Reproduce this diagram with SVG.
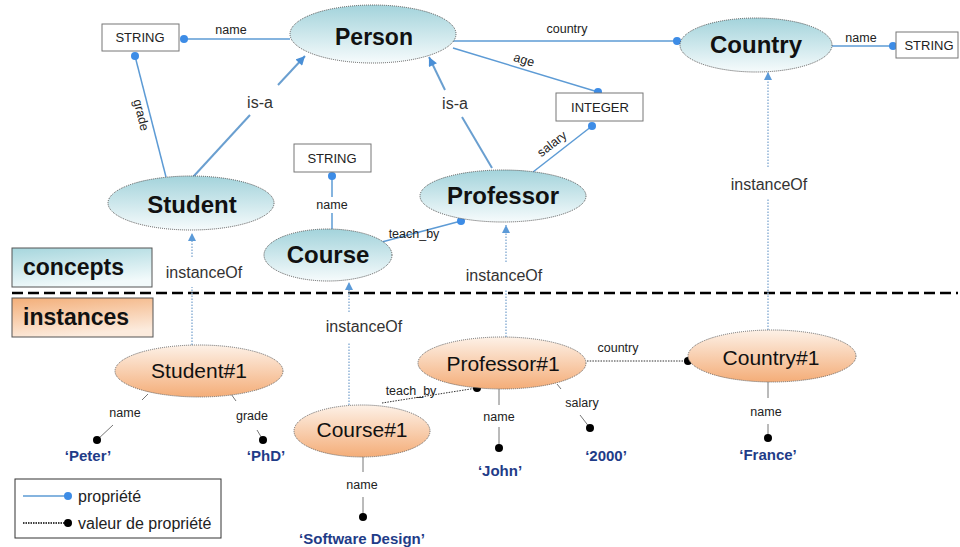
<svg xmlns="http://www.w3.org/2000/svg" width="960" height="547" viewBox="0 0 960 547">
  <defs>
    <linearGradient id="gConcept" x1="0" y1="0" x2="0" y2="1">
      <stop offset="0" stop-color="#a3d3db"/>
      <stop offset="1" stop-color="#f6fbfc"/>
    </linearGradient>
    <linearGradient id="gInstance" x1="0" y1="0" x2="0" y2="1">
      <stop offset="0" stop-color="#fdf1e7"/>
      <stop offset="1" stop-color="#f4ad78"/>
    </linearGradient>
    <linearGradient id="gConceptsTag" x1="0" y1="0" x2="0.3" y2="1">
      <stop offset="0" stop-color="#a6d6dd"/>
      <stop offset="1" stop-color="#f2fafb"/>
    </linearGradient>
    <linearGradient id="gInstancesTag" x1="0" y1="0" x2="0.3" y2="1">
      <stop offset="0" stop-color="#f3ae78"/>
      <stop offset="1" stop-color="#fcebdd"/>
    </linearGradient>
    <marker id="arrowIsA" viewBox="0 0 10 10" refX="10" refY="5" markerWidth="10" markerHeight="9" markerUnits="userSpaceOnUse" orient="auto">
      <path d="M0,0 L10,5 L0,10 z" fill="#4a8fd6"/>
    </marker>
    <marker id="arrowInst" viewBox="0 0 10 10" refX="10" refY="5" markerWidth="9" markerHeight="8" markerUnits="userSpaceOnUse" orient="auto">
      <path d="M0,0 L10,5 L0,10 z" fill="#5b9ad8"/>
    </marker>
  </defs>
  <style>
    .concept ellipse { fill: url(#gConcept); stroke: #555; stroke-width: 1; stroke-dasharray: 1 1; }
    .instance ellipse { fill: url(#gInstance); stroke: #666; stroke-width: 1; stroke-dasharray: 1 1; }
    .cname { font-family: "Liberation Sans", Arial, sans-serif; font-weight: bold; font-size: 24px; fill: #111; text-anchor: middle; }
    .iname { font-family: "Liberation Sans", Arial, sans-serif; font-size: 21px; fill: #111; text-anchor: middle; }
    .type rect { fill: #fff; stroke: #777; stroke-width: 1; }
    .type text { font-family: "Liberation Sans", Arial, sans-serif; font-size: 13px; fill: #222; text-anchor: middle; }
    .prop { stroke: #5d9bd5; stroke-width: 1.5; fill: none; }
    .pdot { fill: #3d8ce6; }
    .isa { stroke: #6a9fd0; stroke-width: 2; fill: none; }
    .inst { stroke: #8fb3d6; stroke-width: 1.5; stroke-dasharray: 1.5 1.5; fill: none; }
    .val { stroke: #777; stroke-width: 1; fill: none; }
    .valdot { stroke: #333; stroke-width: 1; stroke-dasharray: 1.5 1.2; fill: none; }
    .vdot { fill: #000; }
    .lbl { font-family: "Liberation Sans", Arial, sans-serif; font-size: 12.5px; fill: #222; text-anchor: middle; }
    .big { font-family: "Liberation Sans", Arial, sans-serif; font-size: 16px; fill: #333; text-anchor: middle; }
    .value { font-family: "Liberation Sans", Arial, sans-serif; font-weight: bold; font-size: 15px; fill: #1f3c88; text-anchor: middle; }
    .tag { font-family: "Liberation Sans", Arial, sans-serif; font-weight: bold; font-size: 23px; fill: #111; }
    .legend { font-family: "Liberation Sans", Arial, sans-serif; font-size: 16px; fill: #222; }
  </style>

  <rect width="960" height="547" fill="#fff"/>

  <!-- layer tags and separator -->
  <g id="tag-concepts">
    <rect x="12" y="248" width="140" height="39" fill="url(#gConceptsTag)" stroke="#555" stroke-width="1"/>
    <text class="tag" x="23" y="275">concepts</text>
  </g>
  <g id="tag-instances">
    <rect x="12" y="298" width="141" height="39" fill="url(#gInstancesTag)" stroke="#555" stroke-width="1"/>
    <text class="tag" x="23" y="325">instances</text>
  </g>
  <line id="separator" x1="12" y1="293" x2="958" y2="293" stroke="#000" stroke-width="2.5" stroke-dasharray="11 5"/>

  <!-- connectors -->
  <g id="connectors">
    <!-- concept properties -->
    <line class="prop" x1="184" y1="39" x2="290" y2="39"/>
    <circle class="pdot" cx="184" cy="39" r="4"/>
    <text class="lbl" x="231" y="34">name</text>

    <line class="prop" x1="135" y1="56" x2="166" y2="177"/>
    <circle class="pdot" cx="135" cy="56" r="4"/>
    <text class="lbl" transform="translate(141,115) rotate(75.6)" y="4">grade</text>

    <line class="prop" x1="453" y1="41" x2="677" y2="41"/>
    <circle class="pdot" cx="677" cy="41" r="4"/>
    <text class="lbl" x="567" y="33">country</text>

    <line class="prop" x1="453" y1="48" x2="598" y2="92"/>
    <circle class="pdot" cx="598" cy="92" r="4"/>
    <text class="lbl" transform="translate(524,60) rotate(16.9)" y="4">age</text>

    <line class="prop" x1="533" y1="172" x2="592" y2="126"/>
    <circle class="pdot" cx="592" cy="126" r="4"/>
    <text class="lbl" transform="translate(552,144) rotate(-38)" y="4">salary</text>

    <line class="prop" x1="832" y1="46" x2="893" y2="46"/>
    <circle class="pdot" cx="893" cy="46" r="4"/>
    <text class="lbl" x="861" y="42">name</text>

    <line class="prop" x1="332" y1="176" x2="332" y2="197"/>
    <line class="prop" x1="332" y1="213" x2="332" y2="229"/>
    <circle class="pdot" cx="332" cy="176" r="4"/>
    <text class="lbl" x="332" y="209">name</text>

    <line class="prop" x1="378" y1="243" x2="461" y2="221"/>
    <circle class="pdot" cx="461" cy="221" r="4"/>
    <text class="lbl" x="414" y="238">teach_by</text>

    <!-- is-a -->
    <line class="isa" x1="193" y1="177" x2="250" y2="115"/>
    <line class="isa" x1="278" y1="85" x2="305" y2="56" marker-end="url(#arrowIsA)"/>
    <text class="big" x="260" y="108">is-a</text>

    <line class="isa" x1="492" y1="168" x2="462" y2="117"/>
    <line class="isa" x1="445" y1="90" x2="429" y2="57" marker-end="url(#arrowIsA)"/>
    <text class="big" x="455" y="109">is-a</text>

    <!-- instanceOf -->
    <line class="inst" x1="192" y1="345" x2="192" y2="287"/>
    <line class="inst" x1="192" y1="257" x2="192" y2="233" marker-end="url(#arrowInst)"/>
    <text class="big" x="204" y="278">instanceOf</text>

    <line class="inst" x1="349" y1="405" x2="349" y2="342"/>
    <line class="inst" x1="349" y1="312" x2="349" y2="282" marker-end="url(#arrowInst)"/>
    <text class="big" x="364" y="332">instanceOf</text>

    <line class="inst" x1="506" y1="337" x2="506" y2="290"/>
    <line class="inst" x1="506" y1="262" x2="506" y2="225" marker-end="url(#arrowInst)"/>
    <text class="big" x="504" y="281">instanceOf</text>

    <line class="inst" x1="768" y1="330" x2="768" y2="198"/>
    <line class="inst" x1="768" y1="167" x2="768" y2="72" marker-end="url(#arrowInst)"/>
    <text class="big" x="769" y="190">instanceOf</text>

    <!-- instance property values -->
    <line class="val" x1="148" y1="394" x2="142" y2="400"/>
    <line class="val" x1="113" y1="425" x2="97" y2="440"/>
    <circle class="vdot" cx="97" cy="440" r="4"/>
    <text class="lbl" x="125" y="417">name</text>

    <line class="val" x1="231" y1="394" x2="236" y2="401"/>
    <line class="val" x1="257" y1="430" x2="263" y2="440"/>
    <circle class="vdot" cx="263" cy="440" r="4"/>
    <text class="lbl" x="252" y="420">grade</text>

    <line class="valdot" x1="382" y1="403" x2="477" y2="388"/>
    <circle class="vdot" cx="477" cy="388" r="4"/>
    <text class="lbl" x="411" y="395">teach_by</text>

    <line class="val" x1="499" y1="389" x2="499" y2="405"/>
    <line class="val" x1="499" y1="427" x2="499" y2="448"/>
    <circle class="vdot" cx="499" cy="448" r="4"/>
    <text class="lbl" x="499" y="421">name</text>

    <line class="val" x1="557" y1="384" x2="561" y2="389"/>
    <line class="val" x1="580" y1="415" x2="590" y2="428"/>
    <circle class="vdot" cx="590" cy="428" r="4"/>
    <text class="lbl" x="582" y="407">salary</text>

    <line class="valdot" x1="587" y1="361" x2="688" y2="361"/>
    <circle class="vdot" cx="688" cy="361" r="4"/>
    <text class="lbl" x="618" y="352">country</text>

    <line class="val" x1="768" y1="382" x2="768" y2="398"/>
    <line class="val" x1="768" y1="424" x2="768" y2="438"/>
    <circle class="vdot" cx="768" cy="438" r="4"/>
    <text class="lbl" x="766" y="416">name</text>

    <line class="val" x1="363" y1="457" x2="363" y2="472"/>
    <line class="val" x1="363" y1="497" x2="363" y2="517"/>
    <circle class="vdot" cx="363" cy="517" r="4"/>
    <text class="lbl" x="362" y="489">name</text>
  </g>

  <!-- literal types -->
  <g id="type-string-person" class="type">
    <rect x="102" y="24" width="77" height="27"/>
    <text x="140" y="42">STRING</text>
  </g>
  <g id="type-string-course" class="type">
    <rect x="294" y="144" width="77" height="28"/>
    <text x="332" y="163">STRING</text>
  </g>
  <g id="type-string-country" class="type">
    <rect x="896" y="32" width="62" height="26"/>
    <text x="929" y="50">STRING</text>
  </g>
  <g id="type-integer" class="type">
    <rect x="556" y="93" width="87" height="28"/>
    <text x="600" y="112">INTEGER</text>
  </g>

  <!-- concepts -->
  <g id="concept-person" class="concept">
    <ellipse cx="373" cy="34" rx="83" ry="29"/>
    <text class="cname" x="374" y="45" style="font-size:23px">Person</text>
  </g>
  <g id="concept-country" class="concept">
    <ellipse cx="756" cy="45" rx="76" ry="27"/>
    <text class="cname" x="756" y="53">Country</text>
  </g>
  <g id="concept-student" class="concept">
    <ellipse cx="191" cy="203" rx="83" ry="27"/>
    <text class="cname" x="192" y="213">Student</text>
  </g>
  <g id="concept-professor" class="concept">
    <ellipse cx="503" cy="196" rx="83" ry="26"/>
    <text class="cname" x="503" y="204">Professor</text>
  </g>
  <g id="concept-course" class="concept">
    <ellipse cx="328" cy="255" rx="64" ry="26"/>
    <text class="cname" x="328" y="263">Course</text>
  </g>

  <!-- instances -->
  <g id="instance-student1" class="instance">
    <ellipse cx="199" cy="371" rx="84" ry="26"/>
    <text class="iname" x="199" y="378">Student#1</text>
  </g>
  <g id="instance-professor1" class="instance">
    <ellipse cx="502" cy="363" rx="84" ry="26"/>
    <text class="iname" x="503" y="371">Professor#1</text>
  </g>
  <g id="instance-country1" class="instance">
    <ellipse cx="772" cy="356" rx="84" ry="26"/>
    <text class="iname" x="771" y="365">Country#1</text>
  </g>
  <g id="instance-course1" class="instance">
    <ellipse cx="362" cy="431" rx="68" ry="26"/>
    <text class="iname" x="362" y="437">Course#1</text>
  </g>

  <!-- literal values -->
  <g id="value-peter"><text class="value" x="88" y="461">‘Peter’</text></g>
  <g id="value-phd"><text class="value" x="266" y="461">‘PhD’</text></g>
  <g id="value-john"><text class="value" x="500" y="476">‘John’</text></g>
  <g id="value-2000"><text class="value" x="606" y="461">‘2000’</text></g>
  <g id="value-france"><text class="value" x="768" y="460">‘France’</text></g>
  <g id="value-software-design"><text class="value" x="362" y="544">‘Software Design’</text></g>

  <!-- legend -->
  <g id="legend">
    <rect x="15" y="479" width="206" height="59" fill="#fff" stroke="#333" stroke-width="1"/>
    <line class="prop" x1="23" y1="496" x2="68" y2="496"/>
    <circle class="pdot" cx="68" cy="496" r="4"/>
    <text class="legend" x="78" y="502">propriété</text>
    <line x1="23" y1="523" x2="68" y2="523" stroke="#000" stroke-width="1.5" stroke-dasharray="1.5 1"/>
    <circle class="vdot" cx="68" cy="523" r="4"/>
    <text class="legend" x="78" y="529">valeur de propriété</text>
  </g>
</svg>
